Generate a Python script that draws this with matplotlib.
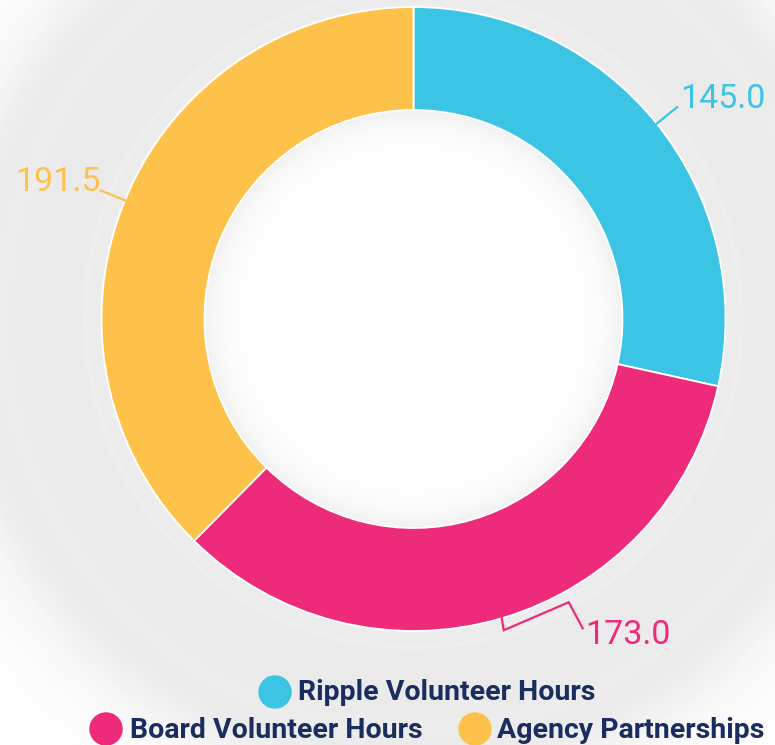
import numpy as np
import matplotlib.pyplot as plt
from matplotlib.patches import Circle

# chart data
categories = ["Ripple Volunteer Hours", "Board Volunteer Hours", "Agency Partnerships"]
values = [145.0, 173.0, 191.5]
colors = ["#3BC4E3", "#EE2A7B", "#FEC24B"]
value_labels = ["145.0", "173.0", "191.5"]

plt.rcParams["font.family"] = ["Roboto", "DejaVu Sans"]

W, H = 775, 745
cx, cy = 413.5, H - 319
r_out, r_in = 312, 209
navy = "#1b2d5e"

fig = plt.figure(figsize=(W / 100, H / 100), dpi=100)
ax = fig.add_axes([0, 0, 1, 1])

# soft ripple-like background, lighter in the corners
yy, xx = np.mgrid[0:H, 0:W] + 0.5
rr = np.hypot(xx - cx, yy - cy)
bg = 1 - 0.085 * np.exp(-((rr - 360) / 125) ** 2)
bg += 0.012 * np.exp(-((rr - 328) / 3) ** 2)         # faint highlight outside ring
bg -= 0.02 * np.exp(-((rr - 440) / 25) ** 2)         # faint outer ripple
hole = rr < r_in
bg[hole] = 1 - 0.055 * np.exp(-(r_in - rr[hole]) / 22)
ax.imshow(np.clip(bg, 0, 1), cmap="gray", vmin=0, vmax=1, origin="lower",
          extent=[0, W, 0, H], zorder=0, interpolation="bilinear")

wedges, _ = ax.pie(values, colors=colors, startangle=90, counterclock=False,
                   radius=r_out, center=(cx, cy),
                   wedgeprops=dict(width=r_out - r_in, edgecolor="white", linewidth=1.3))

# value labels with leader lines
for w, lab, col in zip(wedges, value_labels, colors):
    mid = np.deg2rad((w.theta1 + w.theta2) / 2)
    px, py = cx + r_out * np.cos(mid), cy + r_out * np.sin(mid)
    if py < cy - r_out * 0.8:
        # bottom label uses a bracket-style leader
        xs = [px, px + 2, px + 67, px + 81]
        ys = [py, py - 12, py + 16, py - 10]
        ax.plot(xs, ys, color=col, lw=1.6, solid_joinstyle="miter")
        ax.text(px + 83, py - 26, lab, color=col, fontsize=24.5, ha="left", va="baseline")
    else:
        ex, ey = px + 26 * np.cos(mid), py + 26 * np.sin(mid)
        ax.plot([px, ex], [py, ey], color=col, lw=1.6)
        ha = "left" if np.cos(mid) > 0 else "right"
        dx = 3 if ha == "left" else 0
        ax.text(ex + dx, ey - 1, lab, color=col, fontsize=24.5, ha=ha, va="baseline")

# legend: one item on the first row, two on the second
leg_pos = [(275, H - 692, 298, H - 700), (106, H - 729, 130, H - 738), (475, H - 729, 497, H - 738)]
for (mx, my, tx, ty), name, col in zip(leg_pos, categories, colors):
    ax.add_patch(Circle((mx, my), 16, color=col, zorder=3))
    ax.text(tx, ty, name, color=navy, fontsize=20.5, fontweight="bold",
            ha="left", va="baseline", zorder=3)

ax.set_xlim(0, W)
ax.set_ylim(0, H)
ax.set_aspect("equal")
ax.axis("off")

fig.savefig("out.png", dpi=100)
